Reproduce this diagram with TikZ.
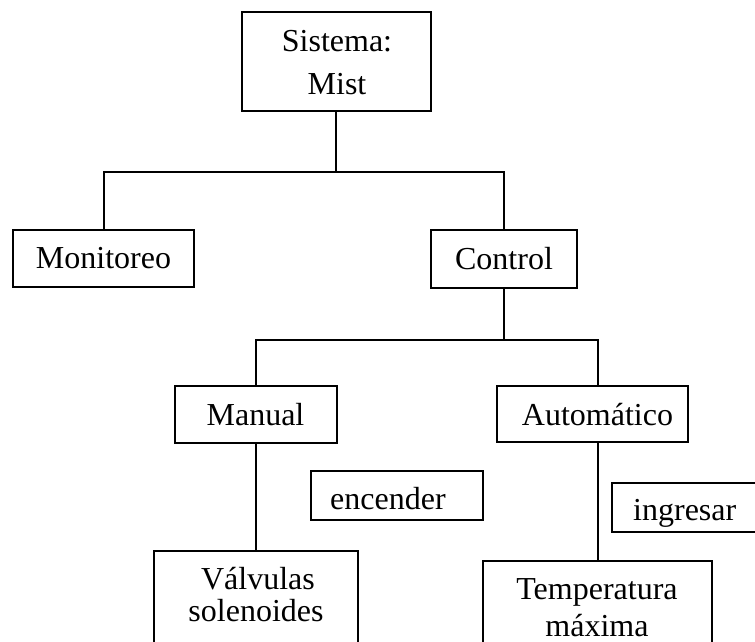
\documentclass[tikz,border=0pt]{standalone}
\usepackage{fontspec}
\setmainfont{Liberation Serif}
\begin{document}
\begin{tikzpicture}[x=1pt,y=-1pt,
  box/.style={draw=black, line width=2pt, rectangle, inner sep=0pt, fill=white},
  txt/.style={inner sep=0pt, font=\fontsize{32}{38}\selectfont},
  link/.style={draw=black, line width=2pt}]
\useasboundingbox (0,0) rectangle (755,642);
\clip (0,0) rectangle (755,642);

% boxes
\node[box, minimum width=189pt, minimum height=99pt] (sis) at (336,61.5) {};
\node[txt, anchor=base] (sisA) at (337,52) {Sistema:};
\node[txt, anchor=base] (sisB) at (337,94) {Mist};

\node[box, txt, minimum width=181pt, minimum height=57pt] (mon) at (103.5,258.5) {Monitoreo};
\node[box, txt, minimum width=146pt, minimum height=58pt] (ctl) at (504,259) {Control};

\node[box, txt, minimum width=162pt, minimum height=57pt] (man) at (255.5,414.5) {Manual};
\node[box, minimum width=191pt, minimum height=56pt] (aut) at (592.5,414) {};
\node[txt, anchor=base] (autT) at (597.5,425) {Automático};

\node[box, minimum width=172pt, minimum height=49pt] (enc) at (397,495.5) {};
\node[txt, anchor=base west] (encT) at (330,509) {encender};

\node[box, minimum width=163pt, minimum height=49pt] (ing) at (693.5,507.5) {};
\node[txt, anchor=base west] (ingT) at (633,520) {ingresar};

\node[box, minimum width=204pt, minimum height=109pt] (val) at (255.5,605.5) {};
\node[txt, anchor=base] (valA) at (258,589) {Válvulas};
\node[txt, anchor=base] (valB) at (256,621) {solenoides};

\node[box, minimum width=229pt, minimum height=99pt] (tem) at (597.5,610.5) {};
\node[txt, anchor=base] (temA) at (597,599) {Temperatura};
\node[txt, anchor=base] (temB) at (597,636) {máxima};

% junctions of the tree
\coordinate (j1) at (336,172);
\coordinate (j2) at (504,340);

% connectors
\draw[link] (sis.south) -- (j1);
\draw[link] (mon.north) |- (j1) -| (ctl.north);
\draw[link] (ctl.south) -- (j2);
\draw[link] (man.north) |- (j2) -| (tem.north |- aut.north);
\draw[link] (man.south) -- (val.north);
\draw[link] (tem.north |- aut.south) -- (tem.north);
\end{tikzpicture}
\end{document}
